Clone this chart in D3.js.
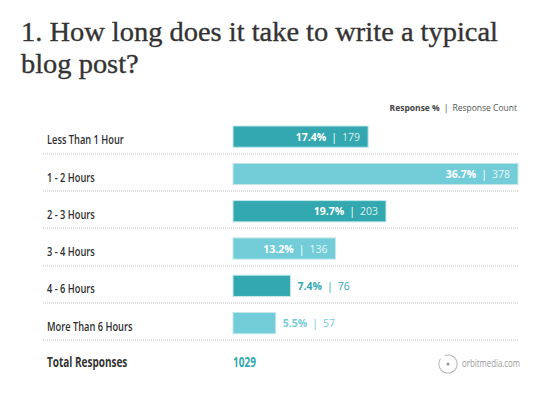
<!DOCTYPE html>
<html>
<head>
<meta charset="utf-8">
<title>Blog post time</title>
<style>
  body { margin: 0; background: #fff; }
  svg { display: block; }
</style>
</head>
<body>
<div id="chart"></div>
<script src="https://d3js.org/d3.v7.min.js"></script>
<script>
var categories = ["Less Than 1 Hour", "1 - 2 Hours", "2 - 3 Hours", "3 - 4 Hours", "4 - 6 Hours", "More Than 6 Hours"];
var percents = [17.4, 36.7, 19.7, 13.2, 7.4, 5.5];
var counts = [179, 378, 203, 136, 76, 57];
var total = 1029;
var titleLines = ["1. How long does it take to write a typical", "blog post?"];

var width = 554, height = 404;
var dark = "#33a8b0", light = "#73cdd8";
var labelFont = "'Open Sans', sans-serif";
var condense = 0.7; // squeeze for the narrow label face, refitted below

var svg = d3.select("#chart").append("svg")
    .attr("width", width)
    .attr("height", height);

// put a text at (x,y) squeezed horizontally
function narrowText(parent, x, y, size, weight) {
    return parent.append("text")
        .attr("class", "narrow")
        .attr("transform", "translate(" + x + "," + y + ") scale(" + condense + ",1)")
        .attr("data-x", x).attr("data-y", y)
        .style("font-family", labelFont)
        .style("font-size", size + "px")
        .style("font-weight", weight || "normal");
}

// title
var title = svg.append("g");
titleLines.forEach(function(line, i) {
    title.append("text")
        .attr("x", 21)
        .attr("y", 41 + i * 31.7)
        .attr("fill", "#333")
        .attr("stroke", "#333")
        .attr("stroke-width", 0.35)
        .style("font-family", "'Liberation Serif', serif")
        .style("font-size", "27.5px")
        .text(line);
});
var first = title.select("text").node();
var ratio = 477 / first.getComputedTextLength();
title.selectAll("text").each(function() {
    d3.select(this).attr("textLength", this.getComputedTextLength() * ratio)
        .attr("lengthAdjust", "spacingAndGlyphs");
});

// legend
var legend = svg.append("text")
    .attr("x", 517)
    .attr("y", 110.5)
    .attr("text-anchor", "end")
    .style("font-family", "'Open Sans', sans-serif")
    .style("font-size", "8.5px")
    .attr("fill", "#444");
legend.append("tspan").style("font-weight", "bold").text("Response %");
legend.append("tspan").attr("dx", 4).text("|");
legend.append("tspan").attr("dx", 4).attr("fill", "#555").text("Response Count");

var step = 37.3, pad = 0.43;
var x = d3.scaleLinear().domain([0, d3.max(percents)]).range([233, 518]);
var y = d3.scaleBand().domain(categories)
    .range([126, 126 + step * (categories.length - pad)])
    .paddingInner(pad).paddingOuter(0);

var rows = svg.selectAll("g.row")
    .data(categories)
    .enter().append("g")
    .attr("class", "row");

// separators
rows.append("line")
    .attr("x1", 43).attr("x2", 518)
    .attr("y1", function(d) { return y(d) + y.bandwidth() + 6.5; })
    .attr("y2", function(d) { return y(d) + y.bandwidth() + 6.5; })
    .attr("stroke", "#dedede")
    .attr("stroke-width", 2)
    .attr("stroke-dasharray", "1,1");

// category labels
rows.each(function(d) {
    narrowText(d3.select(this), 47, y(d) + 18.2, 13, 600)
        .attr("fill", "#2f2f2f")
        .text(d);
});

// bars
rows.append("rect")
    .attr("x", x(0))
    .attr("y", function(d) { return y(d); })
    .attr("width", function(d, i) { return x(percents[i]) - x(0); })
    .attr("height", y.bandwidth())
    .attr("fill", function(d, i) { return i % 2 ? light : dark; })
    .attr("stroke", "#c3e8ec")
    .attr("stroke-width", 1);

// value labels
rows.each(function(d, i) {
    var g = d3.select(this);
    var barW = x(percents[i]) - x(0);
    var inside = barW > 80;
    var col = i % 2 ? light : dark;
    var t = g.append("text")
        .attr("y", y(d) + y.bandwidth() / 2 + 4)
        .style("font-family", "'Open Sans', sans-serif")
        .style("font-size", "10.5px");
    t.append("tspan").style("font-weight", "bold")
        .attr("fill", inside ? "#fff" : col)
        .text(percents[i].toFixed(1) + "%");
    t.append("tspan").attr("dx", 5)
        .attr("fill", inside ? "#fff" : col)
        .text("|");
    t.append("tspan").attr("dx", 5)
        .attr("fill", inside ? "rgba(255,255,255,0.85)" : col)
        .text(counts[i]);
    if (inside) {
        t.attr("x", x(percents[i]) - 8).attr("text-anchor", "end");
    } else {
        t.attr("x", x(percents[i]) + 7);
    }
});

// totals
narrowText(svg, 47, 367, 14, "bold").attr("fill", "#333").text("Total Responses");
narrowText(svg, 233, 367, 14, "bold").attr("fill", dark).text(total);

// logo
var logo = svg.append("g").attr("transform", "translate(448,364)");
var arc = d3.arc().innerRadius(8.6).outerRadius(9.6)
    .startAngle(-0.35).endAngle(2 * Math.PI - 0.95);
logo.append("path").attr("d", arc()).attr("fill", "#b5b5b5");
logo.append("circle").attr("r", 1.6).attr("fill", "#999");
narrowText(svg, 462, 367, 11).attr("fill", "#9a9a9a").text("orbitmedia.com");

// refit squeeze so the first label is as wide as in the picture
var lbl = rows.select("text.narrow").node();
var s = condense * 77 / lbl.getBBox().width / condense;
svg.selectAll("text.narrow").attr("transform", function() {
    return "translate(" + this.getAttribute("data-x") + "," + this.getAttribute("data-y") + ") scale(" + s + ",1)";
});
</script>
</body>
</html>
